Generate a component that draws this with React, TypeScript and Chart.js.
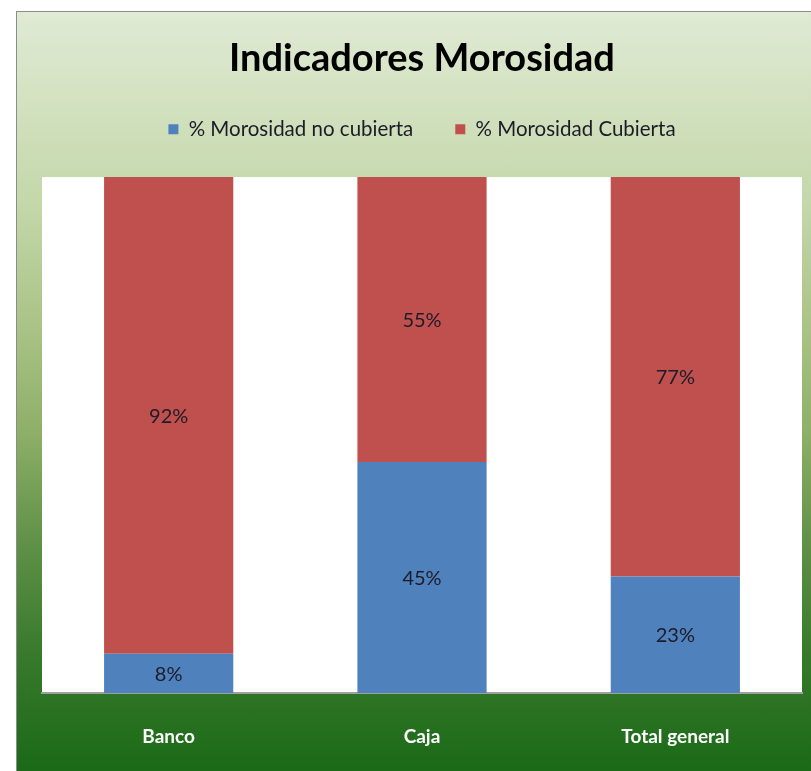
import React, { useEffect, useRef } from "react";
import { Chart, registerables } from "chart.js";

Chart.register(...registerables);

const categories = ["Banco", "Caja", "Total general"];
const noCubierta = [7.6, 44.8, 22.6];
const cubierta = [92.4, 55.2, 77.4];
const seriesNames = ["% Morosidad no cubierta", "% Morosidad Cubierta"];
const titleText = "Indicadores Morosidad";

const FONT = "Lato, 'Open Sans', sans-serif";

const plotBgPlugin = {
  id: "plotBg",
  beforeDraw(chart: any) {
    const { ctx, chartArea } = chart;
    if (!chartArea) return;
    ctx.save();
    ctx.fillStyle = "#ffffff";
    ctx.fillRect(chartArea.left, chartArea.top, chartArea.right - chartArea.left, chartArea.bottom - chartArea.top);
    ctx.restore();
  },
};

const dataLabelPlugin = {
  id: "dataLabels",
  afterDatasetsDraw(chart: any) {
    const { ctx } = chart;
    ctx.save();
    ctx.font = `20px ${FONT}`;
    ctx.fillStyle = "#1c1c28";
    ctx.textAlign = "center";
    ctx.textBaseline = "middle";
    chart.data.datasets.forEach((ds: any, di: number) => {
      const meta = chart.getDatasetMeta(di);
      meta.data.forEach((bar: any, i: number) => {
        const v = ds.data[i];
        const y = (bar.y + bar.base) / 2 + 1;
        ctx.fillText(Math.round(v) + "%", bar.x, y);
      });
    });
    ctx.restore();
  },
};

export default function App() {
  const ref = useRef<HTMLCanvasElement>(null);
  useEffect(() => {
    if (!ref.current) return;
    const chart = new Chart(ref.current, {
      type: "bar",
      data: {
        labels: categories,
        datasets: [
          {
            label: seriesNames[0],
            data: noCubierta,
            backgroundColor: "#4f81bd",
            borderWidth: 0,
            barPercentage: 1,
            categoryPercentage: 0.51,
          },
          {
            label: seriesNames[1],
            data: cubierta,
            backgroundColor: "#c0504d",
            borderWidth: 0,
            barPercentage: 1,
            categoryPercentage: 0.51,
          },
        ],
      },
      options: {
        animation: false,
        responsive: false,
        maintainAspectRatio: false,
        layout: { padding: { left: 25, right: 9, top: 0, bottom: 0 } },
        plugins: {
          title: {
            display: true,
            text: titleText,
            color: "#000000",
            font: { family: FONT, size: 38, weight: "bold", lineHeight: 0.95 },
            padding: { top: 29, bottom: 0 },
          },
          subtitle: {
            display: true,
            text: "",
            weight: 500,
            font: { size: 1, lineHeight: 1 },
            padding: { top: 0, bottom: 26.5 },
          },
          legend: {
            display: true,
            position: "top",
            labels: {
              boxWidth: 10,
              boxHeight: 10,
              padding: 42,
              color: "#1c1c28",
              font: { family: FONT, size: 20.5 },
            },
          },
          tooltip: { enabled: false },
        },
        scales: {
          x: {
            stacked: true,
            grid: { display: true, color: "transparent", drawTicks: false },
            border: { display: true, color: "#a0a0a0", width: 2 },
            ticks: {
              color: "#ffffff",
              padding: 32,
              font: { family: FONT, size: 19, weight: "bold" },
            },
            afterFit(scale: any) {
              scale.height = 78;
            },
          },
          y: {
            stacked: true,
            display: false,
            min: 0,
            max: 100,
          },
        },
      },
      plugins: [plotBgPlugin, dataLabelPlugin],
    });
    return () => chart.destroy();
  }, []);

  return (
    <div
      style={{
        position: "absolute",
        left: 16,
        top: 11,
        width: 795,
        height: 760,
        boxSizing: "border-box",
        borderLeft: "1px solid #8c8c8c",
        borderTop: "1px solid #8c8c8c",
        background:
          "linear-gradient(to bottom, #e0ead4 0%, #c4d8aa 25%, #a9c285 42%, #8fb068 55%, #5f9146 70%, #37792b 85%, #1a6a17 100%)",
        overflow: "hidden",
      }}
    >
      <canvas ref={ref} width={794} height={759} style={{ display: "block" }} />
    </div>
  );
}
